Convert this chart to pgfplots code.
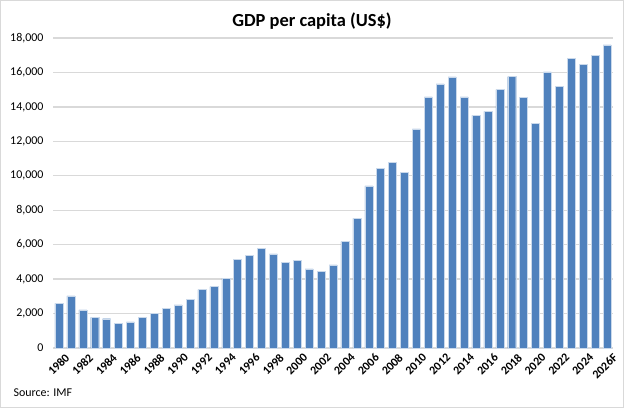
\documentclass[border=0pt]{standalone}
\usepackage{pgfplots}
\pgfplotsset{compat=1.18}
\usepackage{fontspec}
\setmainfont{Carlito}
\definecolor{barblue}{HTML}{4F81BD}
\definecolor{gridgray}{HTML}{D9D9D9}
\begin{document}
\begin{tikzpicture}[x=1bp,y=1bp]
\draw[gridgray, line width=1bp] (0.5,0.5) rectangle (623.5,407.5);
\node[font=\fontsize{18.5}{22}\selectfont\bfseries] at (312,387) {GDP per capita (US\$)};
\node[anchor=west, font=\fontsize{12}{14}\selectfont] at (10,15) {Source: IMF};
\begin{axis}[at={(53bp,60bp)}, anchor=south west, scale only axis,
  width=560bp, height=310bp,
  xmin=-0.5, xmax=46.5, ymin=0, ymax=18000,
  ybar, bar width=8bp,
  ytick={0,2000,...,18000},
  ymajorgrids, grid style={gridgray, line width=1.3bp},
  axis line style={draw=none},
  major tick length=0pt,
  scaled y ticks=false,
  /pgf/number format/assume math mode=true,
  yticklabel style={/pgf/number format/1000 sep={,}, font=\fontsize{12}{14}\selectfont, xshift=-6bp},
  xtick={0,2,...,46},
  xticklabels={1980,1982,1984,1986,1988,1990,1992,1994,1996,1998,2000,2002,2004,2006,2008,2010,2012,2014,2016,2018,2020,2022,2024,2026F},
  xticklabel style={font=\fontsize{12}{14}\selectfont\bfseries, rotate=45, anchor=north east, inner sep=1bp, xshift=1.5bp, yshift=-6bp},
  clip=false,
]
\addplot[fill=barblue, draw=white!70!barblue, line width=0.4bp] coordinates {
(0,2590) (1,3020) (2,2207) (3,1780) (4,1700) (5,1430) (6,1510) (7,1760) (8,2030) (9,2300)
(10,2510) (11,2830) (12,3390) (13,3560) (14,4040) (15,5140) (16,5370) (17,5780) (18,5470) (19,4970)
(20,5080) (21,4600) (22,4470) (23,4820) (24,6180) (25,7530) (26,9410) (27,10450) (28,10760) (29,10180)
(30,12720) (31,14580) (32,15330) (33,15740) (34,14580) (35,13510) (36,13740) (37,15000) (38,15760) (39,14560)
(40,13050) (41,16030) (42,15200) (43,16800) (44,16470) (45,17010) (46,17600)
};
\end{axis}
\end{tikzpicture}
\end{document}
